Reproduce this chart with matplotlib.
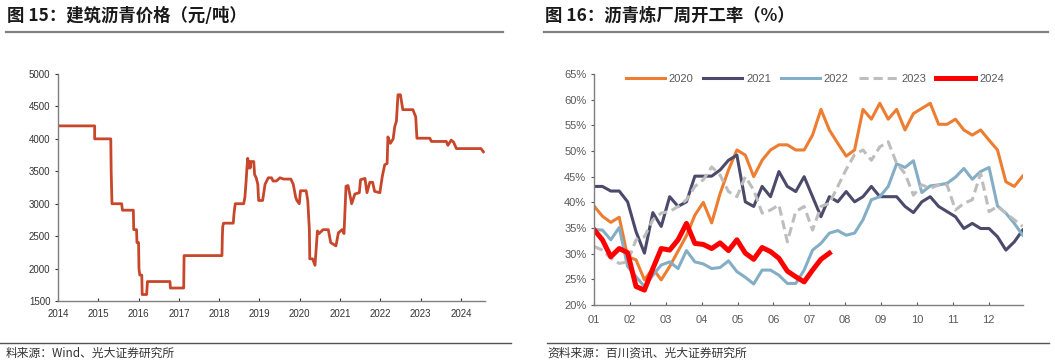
import numpy as np
import matplotlib
matplotlib.use("Agg")
import matplotlib.pyplot as plt
from matplotlib.lines import Line2D

plt.rcParams['font.family'] = ['Liberation Sans', 'Noto Sans CJK SC', 'DejaVu Sans']

# Figure 15: building asphalt price (yuan/ton), x in decimal years
price_years = [2014.00, 2014.91, 2014.91, 2015.31, 2015.32, 2015.34, 2015.58, 2015.60, 2015.87, 2015.88,
               2015.95, 2015.96, 2016.00, 2016.01, 2016.03, 2016.08, 2016.09, 2016.20, 2016.22, 2016.78,
               2016.79, 2017.12, 2017.13, 2018.07, 2018.08, 2018.09, 2018.11, 2018.35, 2018.37, 2018.40,
               2018.61, 2018.64, 2018.67, 2018.69, 2018.71, 2018.73, 2018.75, 2018.77, 2018.79, 2018.86,
               2018.88, 2018.92, 2018.96, 2018.98, 2019.08, 2019.14, 2019.22, 2019.30, 2019.34, 2019.42,
               2019.51, 2019.60, 2019.78, 2019.84, 2019.90, 2019.93, 2019.99, 2020.02, 2020.16, 2020.20,
               2020.24, 2020.25, 2020.32, 2020.38, 2020.44, 2020.48, 2020.58, 2020.71, 2020.77, 2020.90,
               2020.96, 2021.05, 2021.10, 2021.15, 2021.20, 2021.29, 2021.37, 2021.48, 2021.51, 2021.62,
               2021.67, 2021.74, 2021.81, 2021.86, 2021.99, 2022.05, 2022.11, 2022.17, 2022.19, 2022.25,
               2022.32, 2022.36, 2022.40, 2022.44, 2022.50, 2022.56, 2022.81, 2022.88, 2022.91, 2023.23,
               2023.27, 2023.64, 2023.68, 2023.76, 2023.82, 2023.89, 2024.50, 2024.56]
price_values = [4200, 4200, 4000, 4000, 3500, 3000, 3000, 2900, 2900, 2600,
                2600, 2400, 2400, 2000, 1900, 1900, 1600, 1600, 1800, 1800,
                1700, 1700, 2200, 2200, 2500, 2650, 2700, 2700, 2850, 3000,
                3000, 3100, 3350, 3550, 3700, 3550, 3650, 3550, 3650, 3650,
                3450, 3400, 3300, 3050, 3050, 3300, 3400, 3400, 3350, 3350,
                3400, 3380, 3380, 3300, 3100, 3050, 3000, 3200, 3200, 3050,
                2600, 2150, 2150, 2050, 2580, 2540, 2600, 2600, 2400, 2350,
                2550, 2600, 2540, 3270, 3280, 3000, 3150, 3170, 3370, 3390,
                3170, 3330, 3330, 3190, 3170, 3420, 3600, 3620, 4030, 3930,
                4000, 4190, 4270, 4680, 4680, 4450, 4450, 4340, 4010, 4010,
                3960, 3960, 3900, 3980, 3950, 3850, 3850, 3800]
year_ticks = list(range(2014, 2025))

# Figure 16: weekly asphalt refinery operating rate (%)
months = ['01', '02', '03', '04', '05', '06', '07', '08', '09', '10', '11', '12']
rate_2020 = [39.3, 37.3, 36.1, 37.1, 29.4, 28.8, 24.9, 27.1, 24.9, 27.5, 30.5, 33.5, 37.5, 40.0, 36.0, 41.7,
             46.3, 50.2, 49.2, 45.0, 48.2, 50.2, 51.2, 51.2, 50.2, 50.2, 53.1, 58.1, 54.1, 51.5, 49.0, 50.2,
             58.1, 56.2, 59.3, 56.2, 58.1, 54.1, 57.3, 58.3, 59.3, 55.2, 55.2, 56.2, 54.1, 53.1, 54.1, 52.1,
             50.2, 44.0, 43.1, 45.1]
rate_2021 = [43.1, 43.1, 42.2, 42.2, 40.1, 34.3, 30.1, 38.0, 35.3, 41.1, 39.2, 40.1, 45.1, 45.1, 45.1, 46.3,
             48.2, 49.2, 40.1, 39.2, 43.1, 41.1, 46.0, 43.1, 42.1, 45.0, 41.1, 37.2, 41.1, 40.1, 42.1, 40.1,
             41.1, 43.1, 41.1, 41.1, 41.1, 39.2, 38.0, 40.1, 41.1, 39.2, 38.2, 37.2, 34.9, 35.9, 34.9, 34.9,
             33.3, 30.7, 32.3, 34.6]
rate_2022 = [34.7, 34.6, 32.7, 35.1, 27.5, 25.5, 23.6, 25.8, 27.8, 28.4, 27.1, 30.6, 28.4, 28.0, 27.1, 27.3,
             28.6, 26.5, 25.4, 24.1, 26.8, 26.8, 25.8, 24.2, 24.2, 26.8, 30.7, 32.0, 34.0, 34.5, 33.6, 34.0,
             36.6, 40.5, 41.1, 43.1, 47.5, 46.8, 48.1, 41.9, 43.2, 43.4, 43.7, 44.9, 46.6, 44.5, 46.0, 46.8,
             39.3, 37.9, 35.9, 33.6]
rate_2023 = [31.4, 30.7, 29.1, 28.1, 28.4, 32.7, 33.3, 36.6, 37.9, 38.2, 39.2, 40.5, 43.1, 44.4, 46.9, 45.3,
             42.1, 41.1, 45.0, 42.4, 37.9, 38.5, 39.5, 32.3, 38.2, 39.2, 34.6, 39.2, 39.8, 43.1, 46.4, 49.3,
             50.2, 48.2, 50.8, 51.8, 47.6, 45.6, 41.4, 43.4, 42.7, 43.4, 43.4, 38.5, 39.8, 40.5, 45.6, 38.2,
             39.2, 37.9, 36.6, 35.3]
rate_2024 = [34.7, 32.7, 29.4, 31.0, 30.2, 23.6, 22.9, 27.1, 31.0, 30.7, 32.7, 35.9, 32.0, 31.8, 31.0, 32.1,
             30.6, 32.7, 30.1, 28.9, 31.2, 30.4, 29.1, 26.6, 25.5, 24.5, 26.8, 28.9, 30.1]

W, H = 1055, 364
fig = plt.figure(figsize=(W / 100, H / 100), dpi=100)

# ---- left panel
ax1 = fig.add_axes([58 / W, 1 - 301 / H, 427 / W, 227 / H])
ax1.plot(price_years, price_values, color='#C8472B', lw=2.0, solid_joinstyle='round')
ax1.set_xlim(2014, 2024.6)
ax1.set_ylim(1500, 5000)
ax1.set_yticks(range(1500, 5001, 500))
ax1.set_xticks(year_ticks)
ax1.tick_params(axis='both', labelsize=7, colors='#333333', length=2.5, width=0.8)
ax1.tick_params(axis='x', direction='in', pad=6)
ax1.tick_params(axis='y', direction='out', pad=3)
for s in ['top', 'right']:
    ax1.spines[s].set_visible(False)
for s in ['left', 'bottom']:
    ax1.spines[s].set_color('#7f7f7f')
    ax1.spines[s].set_linewidth(1.0)

# ---- right panel
ax2 = fig.add_axes([594 / W, 1 - 305 / H, 428.7 / W, 231 / H])
series = [(rate_2020, '2020', '#ED7D31', 2.2, '-'),
          (rate_2021, '2021', '#4B4A6B', 2.2, '-'),
          (rate_2022, '2022', '#84AEC5', 2.2, '-'),
          (rate_2023, '2023', '#BDBDBD', 2.2, '--'),
          (rate_2024, '2024', '#FF0000', 3.6, '-')]
for vals, lab, col, lw, ls in series:
    ln, = ax2.plot(np.arange(len(vals)), vals, color=col, lw=lw, ls=ls, label=lab,
                   solid_joinstyle='round')
    if ls == '--':
        ln.set_dashes((3, 1.6))
ax2.set_xlim(0, 51)
ax2.set_ylim(20, 65)
ax2.set_yticks(range(20, 66, 5))
ax2.set_yticklabels([f'{v}%' for v in range(20, 66, 5)])
ax2.set_xticks(np.arange(12) * 4.27)
ax2.set_xticklabels(months)
ax2.tick_params(axis='both', labelsize=8, colors='#595959', length=2.5, width=0.8)
ax2.tick_params(axis='x', direction='in', pad=7)
ax2.tick_params(axis='y', direction='out', pad=3)
for s in ['top', 'right']:
    ax2.spines[s].set_visible(False)
for s in ['left', 'bottom']:
    ax2.spines[s].set_color('#7f7f7f')
    ax2.spines[s].set_linewidth(1.0)
leg = ax2.legend(loc='upper center', bbox_to_anchor=(0.515, 1.045), ncol=5, frameon=False,
                 fontsize=8, handlelength=3.5, handletextpad=0.35, columnspacing=0.9)
for t in leg.get_texts():
    t.set_color('#595959')

# ---- titles, rules and sources
cjk = ['Noto Sans CJK SC', 'DejaVu Sans']
fig.text(7 / W, 1 - 16 / H, '图 15：建筑沥青价格（元/吨）', family=cjk, fontsize=12.5,
         weight='bold', va='center', ha='left', color='#1a1a1a')
fig.text(545 / W, 1 - 16 / H, '图 16：沥青炼厂周开工率（%）', family=cjk, fontsize=12.5,
         weight='bold', va='center', ha='left', color='#1a1a1a')
fig.add_artist(Line2D([6 / W, 503 / W], [1 - 32 / H] * 2, color='#808080', lw=1.6))
fig.add_artist(Line2D([544 / W, 1048 / W], [1 - 32 / H] * 2, color='#808080', lw=1.6))
fig.add_artist(Line2D([0, 511 / W], [1 - 343 / H] * 2, color='#555555', lw=1.0))
fig.add_artist(Line2D([547 / W, 1049 / W], [1 - 343 / H] * 2, color='#555555', lw=1.0))
fig.text(6 / W, 1 - 353 / H, '料来源：Wind、光大证券研究所', family=cjk, fontsize=8.5,
         va='center', ha='left', color='#333333')
fig.text(547 / W, 1 - 353 / H, '资料来源：百川资讯、光大证券研究所', family=cjk, fontsize=8.5,
         va='center', ha='left', color='#333333')

fig.savefig('out.png', dpi=100)
